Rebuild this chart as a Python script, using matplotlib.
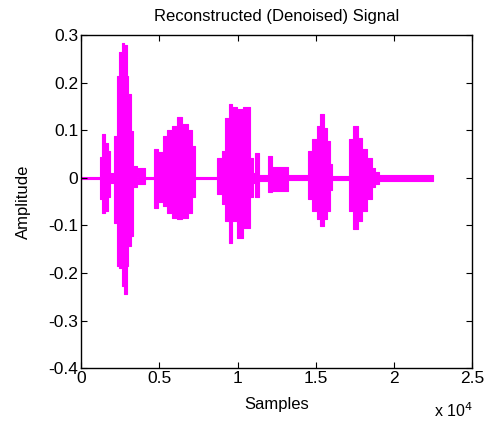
import numpy as np
import matplotlib
matplotlib.use('Agg')
import matplotlib.pyplot as plt

plt.rcParams['font.family'] = ['Liberation Sans', 'DejaVu Sans']
plt.rcParams['axes.unicode_minus'] = False

# envelope of the denoised signal (step segments)
seg_start = [0, 1215, 1364, 1535, 1705, 1854, 2132, 2281, 2430, 2601, 2771, 2920,
             3026, 3197, 3346, 3560, 3666, 4092, 4689, 4945, 5264, 5477, 5797,
             6117, 6479, 6820, 7076, 7289, 8674, 8994, 9207, 9484, 9633, 9953,
             10379, 10806, 11019, 11126, 11403, 11978, 12191, 13257, 14536, 14749,
             15069, 15282, 15495, 15708, 15921, 16070, 17156, 17411, 17731, 17944,
             18264, 18584, 18798, 19010]
seg_top = [0.002, 0.043, 0.093, 0.074, 0.057, 0.010, 0.089, 0.215, 0.264, 0.283, 0.280, 0.215,
           0.177, 0.099, 0.025, 0.002, 0.021, 0.002, 0.061, 0.055, 0.089, 0.100, 0.110,
           0.127, 0.114, 0.100, 0.068, 0.002, 0.042, 0.057, 0.125, 0.156, 0.148, 0.145,
           0.148, 0.042, 0.010, 0.052, 0.006, 0.046, 0.022, 0.005, 0.057, 0.082,
           0.110, 0.135, 0.105, 0.078, 0.030, 0.004, 0.082, 0.110, 0.084, 0.060,
           0.042, 0.020, 0.012, 0.006]
seg_bottom = [-0.002, -0.044, -0.074, -0.070, -0.040, -0.010, -0.095, -0.186, -0.190, -0.228, -0.245, -0.186,
              -0.143, -0.122, -0.020, -0.002, -0.013, -0.002, -0.063, -0.050, -0.060, -0.074, -0.084,
              -0.087, -0.084, -0.074, -0.040, -0.002, -0.034, -0.055, -0.090, -0.137, -0.090, -0.126,
              -0.105, -0.040, -0.010, -0.040, -0.006, -0.030, -0.027, -0.005, -0.044, -0.070,
              -0.087, -0.101, -0.087, -0.070, -0.025, -0.004, -0.070, -0.108, -0.090, -0.070,
              -0.044, -0.020, -0.012, -0.006]
signal_end = 22500

xticks = [0, 5000, 10000, 15000, 20000, 25000]
xtick_labels = ['0', '0.5', '1', '1.5', '2', '2.5']
yticks = [-0.4, -0.3, -0.2, -0.1, 0, 0.1, 0.2, 0.3]
ytick_labels = ['-0.4', '-0.3', '-0.2', '-0.1', '0', '0.1', '0.2', '0.3']

fig = plt.figure(figsize=(4.86, 4.29), dpi=100)
ax = fig.add_axes([0.1667, 0.142, 0.805, 0.776])

x = np.array(seg_start + [signal_end])
top = np.array(seg_top + [seg_top[-1]])
bot = np.array(seg_bottom + [seg_bottom[-1]])
ax.fill_between(x, bot, top, step='post', color='#ff00ff', linewidth=0.8, edgecolor='#ff00ff')

ax.set_xlim(0, 25000)
ax.set_ylim(-0.4, 0.3)
ax.set_xticks(xticks)
ax.set_xticklabels(xtick_labels)
ax.set_yticks(yticks)
ax.set_yticklabels(ytick_labels)
ax.tick_params(direction='in', length=4, top=True, right=True, labelsize=12.5, pad=2)
for s in ax.spines.values():
    s.set_linewidth(1.0)

ax.set_title('Reconstructed (Denoised) Signal', fontsize=12, pad=10)
ax.set_xlabel('Samples', fontsize=12)
ax.set_ylabel('Amplitude', fontsize=12)
ax.xaxis.set_label_coords(0.5, -0.088)
ax.yaxis.set_label_coords(-0.128, 0.5)
ax.text(0.953, -0.128, 'x 10$^4$', transform=ax.transAxes, ha='center', va='center', fontsize=11.5)

plt.savefig('out.png', dpi=100)
